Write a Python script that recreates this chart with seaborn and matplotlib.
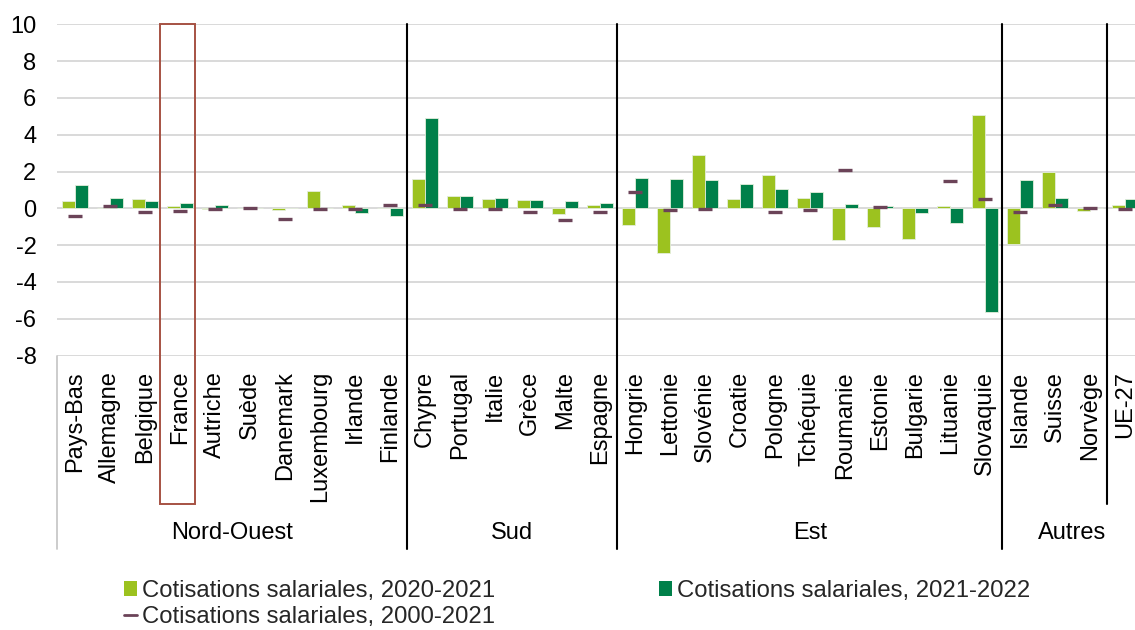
import numpy as np
import pandas as pd
import matplotlib
matplotlib.use("Agg")
import matplotlib.pyplot as plt
from matplotlib.patches import Patch, Rectangle
from matplotlib.lines import Line2D
import matplotlib.transforms as mtransforms
import seaborn as sns

# ---- data ----
pays = ["Pays-Bas", "Allemagne", "Belgique", "France", "Autriche", "Suède",
        "Danemark", "Luxembourg", "Irlande", "Finlande",
        "Chypre", "Portugal", "Italie", "Grèce", "Malte", "Espagne",
        "Hongrie", "Lettonie", "Slovénie", "Croatie", "Pologne", "Tchéquie",
        "Roumanie", "Estonie", "Bulgarie", "Lituanie", "Slovaquie",
        "Islande", "Suisse", "Norvège", "UE-27"]

var_2020_2021 = [0.40, 0.00, 0.49, 0.13, -0.05, 0.00, -0.07, 0.92, 0.20, 0.00,
                 1.58, 0.67, 0.51, 0.47, -0.33, 0.18,
                 -0.90, -2.45, 2.90, 0.51, 1.79, 0.54, -1.70, -1.01, -1.65, 0.11, 5.07,
                 -1.92, 1.99, -0.13, 0.18]
var_2021_2022 = [1.27, 0.58, 0.38, 0.29, 0.20, 0.02, 0.02, 0.00, -0.24, -0.40,
                 4.91, 0.65, 0.54, 0.47, 0.40, 0.29,
                 1.67, 1.58, 1.56, 1.32, 1.03, 0.89, 0.25, 0.11, -0.24, -0.78, -5.63,
                 1.56, 0.54, 0.02, 0.53]
var_2000_2021 = [-0.43, 0.11, -0.22, -0.16, -0.06, 0.00, -0.60, -0.03, -0.02, 0.16,
                 0.16, -0.06, -0.01, -0.22, -0.65, -0.22,
                 0.87, -0.11, -0.01, np.nan, -0.22, -0.11, 2.07, 0.05, np.nan, 1.47, 0.49,
                 -0.22, 0.16, 0.00, -0.05]

groupes = ["Nord-Ouest", "Sud", "Est", "Autres"]
taille_groupes = [10, 6, 11, 4]

lab_a = "Cotisations salariales, 2020-2021"
lab_b = "Cotisations salariales, 2021-2022"
lab_c = "Cotisations salariales, 2000-2021"

# ---- style ----
sns.set_theme(style="white")
plt.rcParams["font.family"] = ["Liberation Sans", "DejaVu Sans"]
plt.rcParams["axes.unicode_minus"] = False

c_light = "#9CC21F"
c_dark = "#00804A"
c_dash = "#6B4358"
c_grid = "#D9D9D9"
c_box = "#A65243"

W, H = 1135, 630
fig = plt.figure(figsize=(W / 100, H / 100), dpi=100)
ax_left, ax_top, ax_bot = 57.3, 24.3, 355.6
ax = fig.add_axes([ax_left / W, 1 - ax_bot / H, 1 - ax_left / W, (ax_bot - ax_top) / H])

df = pd.DataFrame({
    "pays": pays * 2,
    "valeur": var_2020_2021 + var_2021_2022,
    "serie": [lab_a] * len(pays) + [lab_b] * len(pays),
})

sns.barplot(data=df, x="pays", y="valeur", hue="serie", order=pays,
            hue_order=[lab_a, lab_b], palette=[c_light, c_dark], saturation=1,
            width=0.73, dodge=True, edgecolor="#E4EEDC", linewidth=0.6,
            legend=False, ax=ax, zorder=3)

pos = np.arange(len(pays))
ax.plot(pos, var_2000_2021, linestyle="none", marker="_", markersize=10.5,
        markeredgewidth=2.4, color=c_dash, zorder=4)

# ---- axes ----
cat_px = 35.0
ax.set_xlim(-0.5, -0.5 + (W - ax_left) / cat_px)
ax.set_ylim(-8, 10)
ax.set_yticks(np.arange(-8, 11, 2))
ax.set_yticklabels([str(v) for v in range(-8, 11, 2)])
ax.yaxis.grid(True, color=c_grid, linewidth=1.4, zorder=0)
ax.xaxis.grid(False)
for s in ax.spines.values():
    s.set_visible(False)
ax.tick_params(axis="y", length=0, pad=15, labelsize=17, labelcolor="black")
ax.tick_params(axis="x", length=0, pad=11, labelsize=17, labelcolor="black")
ax.set_xticks(pos)
ax.set_xticklabels(pays, rotation=90, va="top", ha="center")
ax.set_xlabel("")
ax.set_ylabel("")

# group separators and labels below the axis
trans = mtransforms.blended_transform_factory(ax.transData, ax.transAxes)
ax_h = ax_bot - ax_top
y_low = (ax_bot - 549) / ax_h
y_short = (ax_bot - 504) / ax_h
y_grp = (ax_bot - 533) / ax_h

ax.plot([-0.5, -0.5], [0, y_low], color="#C8C8C8", linewidth=1.3,
        transform=trans, clip_on=False)
start = 0
for name, n in zip(groupes, taille_groupes):
    end = start + n
    ax.text((start + end - 1) / 2, y_grp, name, transform=trans, ha="center",
            va="center", fontsize=17, color="black")
    if end < len(pays):
        ax.plot([end - 0.5, end - 0.5], [1, y_low], color="black", linewidth=1.5,
                transform=trans, clip_on=False, zorder=5)
    start = end
i_ue = pays.index("UE-27")
ax.plot([i_ue - 0.5, i_ue - 0.5], [1, y_short], color="black", linewidth=1.5,
        transform=trans, clip_on=False, zorder=5)

# highlight box around France
i_fr = pays.index("France")
ax.add_patch(Rectangle((i_fr - 0.56, y_short), 1.0, 1 - y_short, transform=trans,
                       fill=False, edgecolor=c_box, linewidth=1.4, clip_on=False,
                       zorder=6))

# ---- legend ----
handles = [
    Patch(facecolor=c_light, edgecolor="none", label=lab_a),
    Line2D([0], [0], color=c_dash, linewidth=2.0, label=lab_c),
    Patch(facecolor=c_dark, edgecolor="none", label=lab_b),
]
fig.legend(handles=handles, ncol=2, loc="upper left",
           bbox_to_anchor=(124 / W, 1 - 580 / H), frameon=False,
           fontsize=17.2, handlelength=0.55, handleheight=0.55,
           handletextpad=0.2, columnspacing=6.85, labelspacing=0.18,
           borderpad=0, borderaxespad=0)

fig.savefig("out.png", dpi=100)
